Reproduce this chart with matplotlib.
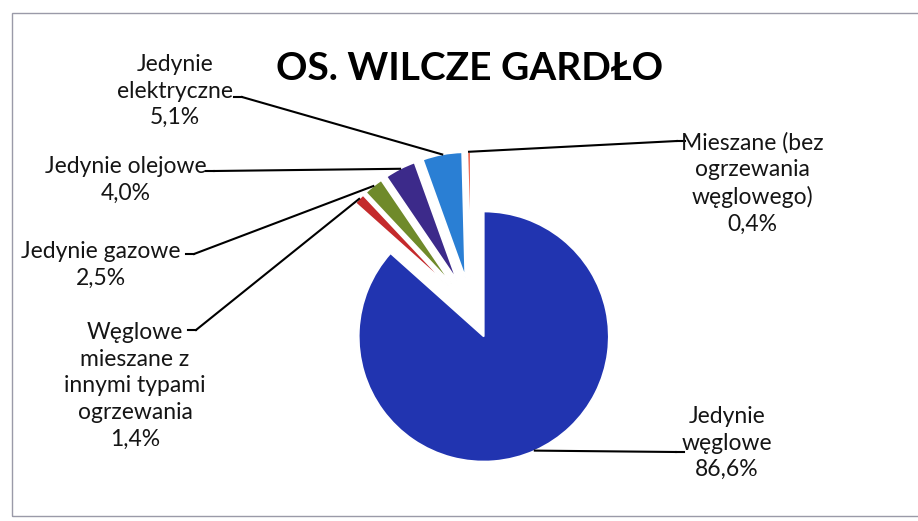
import numpy as np
import matplotlib
matplotlib.use("Agg")
import matplotlib.pyplot as plt
from matplotlib.patches import Rectangle

plt.rcParams['font.family'] = ['Lato', 'DejaVu Sans']

# ----------------------------------------------------------------------
# Data (share of heating types, %)
# ----------------------------------------------------------------------
title = "OS. WILCZE GARDŁO"
categories = [
    "Jedynie\nwęglowe",
    "Węglowe\nmieszane z\ninnymi typami\nogrzewania",
    "Jedynie gazowe",
    "Jedynie olejowe",
    "Jedynie\nelektryczne",
    "Mieszane (bez\nogrzewania\nwęglowego)",
]
values = [86.6, 1.4, 2.5, 4.0, 5.1, 0.4]
colors = ["#2134b0", "#c42a2c", "#6f8a2a", "#3c2a8a", "#2a7fd4", "#e8452c"]

# label block centres and leader-line start points (image pixels, y down)
label_pos = [(727, 443), (135, 386), (101, 265), (126, 180), (175, 91), (752, 183)]
leader_start = [(676, 452), (196, 330), (194, 254), (214, 171), (242, 97), (677, 141)]

W, H = 918, 521
R = 125
center = (471, H - 308)

fig = plt.figure(figsize=(W / 100, H / 100), dpi=100)
ax = fig.add_axes([0, 0, 1, 1])

wedges, _ = ax.pie(values, radius=R, center=center, colors=colors,
                   explode=[0.25 * R] * len(values), startangle=90,
                   counterclock=False,
                   wedgeprops=dict(edgecolor="white", linewidth=1.2))

ax.set_xlim(0, W)
ax.set_ylim(0, H)
ax.set_aspect('auto')
ax.axis('off')

# chart frame
ax.add_patch(Rectangle((12, H - 516), W + 20, 503, fill=False,
                       edgecolor="#9a9aa8", linewidth=1.0, clip_on=False))

ax.text(470, H - 68, title, ha='center', va='center',
        fontsize=28, fontweight='bold', color='black')

for w, cat, val, (lx, ly), (sx, sy) in zip(wedges, categories, values,
                                           label_pos, leader_start):
    # outer arc midpoint of each wedge
    mid = np.deg2rad((w.theta1 + w.theta2) / 2)
    cx, cy = w.center
    px, py = cx + w.r * np.cos(mid), cy + w.r * np.sin(mid)
    ax.plot([sx - 8 if sx < px else sx + 8, sx], [H - sy, H - sy],
            color='black', lw=1.5)
    ax.plot([sx, px], [H - sy, py], color='black', lw=1.5)
    txt = cat + "\n" + f"{val:.1f}".replace(".", ",") + "%"
    ax.text(lx, H - ly, txt, ha='center', va='center', fontsize=16.5,
            linespacing=1.33, color='#151515')

fig.savefig("out.png", dpi=100)
